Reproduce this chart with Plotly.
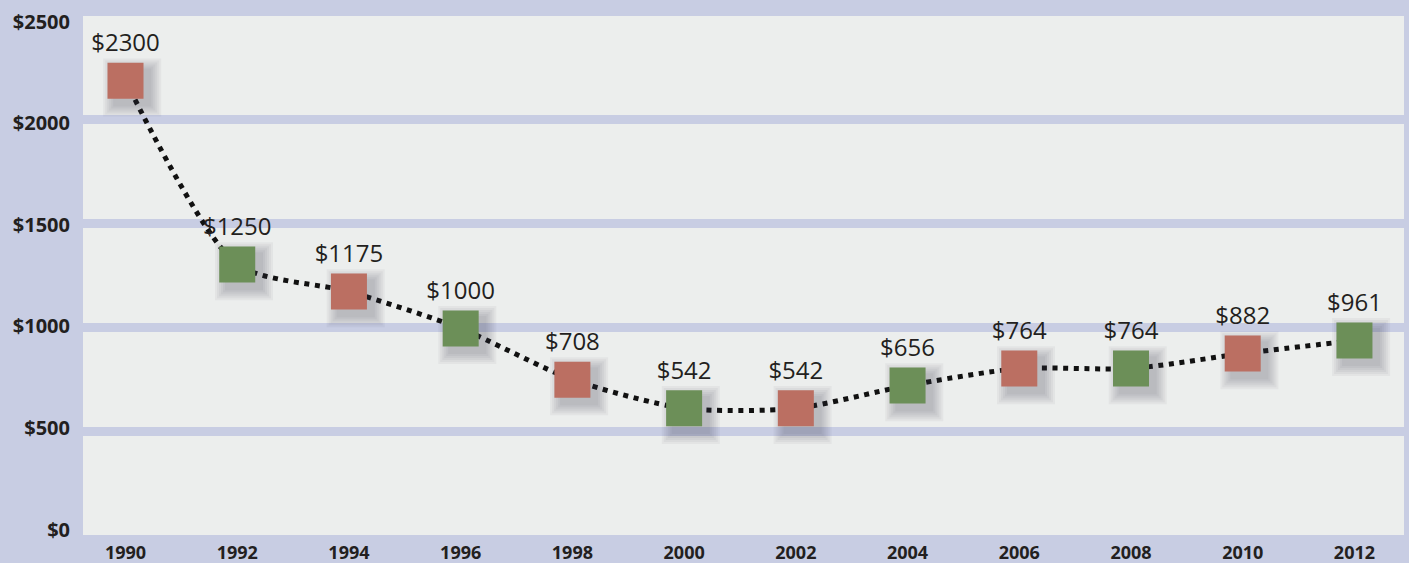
import plotly.graph_objects as go

# values
years = [1990, 1992, 1994, 1996, 1998, 2000, 2002, 2004, 2006, 2008, 2010, 2012]
prices = [2300, 1250, 1175, 1000, 708, 542, 542, 656, 764, 764, 882, 961]
# where the squares actually sit on the axis in the original drawing
plotted = [2188, 1303, 1173, 995, 748, 610, 610, 720, 802, 802, 874, 937]
y_ticks = [0, 500, 1000, 1500, 2000, 2500]

RED = "#bb6f62"
GREEN = "#6c8f58"
BG = "#c8cde3"
PLOT_BG = "#eceeed"
TEXT = "#231f20"

colors = [RED if i % 2 == 0 else GREEN for i in range(len(years))]
labels = [f"${p}" for p in prices]

x_range = [1989.239, 2012.887]
y_range = [0, 2500]
# the printed tick labels sit a bit inside the grid bands, so they get their own axis
label_range = [-27, 2529]

fig = go.Figure()

# dotted connecting curve
fig.add_trace(
    go.Scatter(
        x=years,
        y=plotted,
        mode="lines",
        line=dict(color="#111111", width=5, dash="5px,5.6px", shape="spline", smoothing=0.7),
        hoverinfo="skip",
        showlegend=False,
    )
)

# soft drop shadow under the squares, a few pixels down and right
sx = [y + 0.12 for y in years]
sy = [v - 32 for v in plotted]
for size in [58, 54, 50, 46, 42, 38]:
    fig.add_trace(
        go.Scatter(
            x=sx,
            y=sy,
            mode="markers",
            marker=dict(symbol="square", size=size, color="rgba(60,65,75,0.05)", line=dict(width=0)),
            hoverinfo="skip",
            showlegend=False,
        )
    )

fig.add_trace(
    go.Scatter(
        x=years,
        y=plotted,
        mode="markers+text",
        marker=dict(symbol="square", size=36, color=colors, line=dict(width=0)),
        text=labels,
        textposition="top center",
        textfont=dict(family="Open Sans", size=24, color=TEXT),
        showlegend=False,
    )
)

# empty trace so the label axis gets drawn
fig.add_trace(go.Scatter(x=[], y=[], yaxis="y2", showlegend=False, hoverinfo="skip"))

fig.update_layout(
    width=1409,
    height=563,
    margin=dict(l=83, r=5, t=16, b=28),
    paper_bgcolor=BG,
    plot_bgcolor=PLOT_BG,
    font=dict(family="Open Sans", color=TEXT),
    xaxis=dict(
        range=x_range,
        tickvals=years,
        ticktext=[str(y) for y in years],
        tickfont=dict(family="Open Sans", size=18, color=TEXT, weight="bold"),
        showgrid=False,
        zeroline=False,
        showline=False,
        ticks="outside",
        ticklen=1,
        tickcolor="rgba(0,0,0,0)",
        automargin=False,
    ),
    yaxis=dict(
        range=y_range,
        tickvals=y_ticks,
        showticklabels=False,
        showgrid=True,
        gridcolor=BG,
        gridwidth=9,
        zeroline=False,
        showline=False,
        ticks="",
        automargin=False,
    ),
    yaxis2=dict(
        overlaying="y",
        side="left",
        range=label_range,
        tickvals=y_ticks,
        ticktext=[f"${v}" for v in y_ticks],
        tickfont=dict(family="Open Sans", size=20, color=TEXT, weight="bold"),
        showgrid=False,
        zeroline=False,
        showline=False,
        ticks="outside",
        ticklen=8,
        tickcolor="rgba(0,0,0,0)",
        automargin=False,
    ),
)

fig.write_html(
    "out.html",
    config={"displayModeBar": False},
    post_script="document.body.style.margin='0';",
)
